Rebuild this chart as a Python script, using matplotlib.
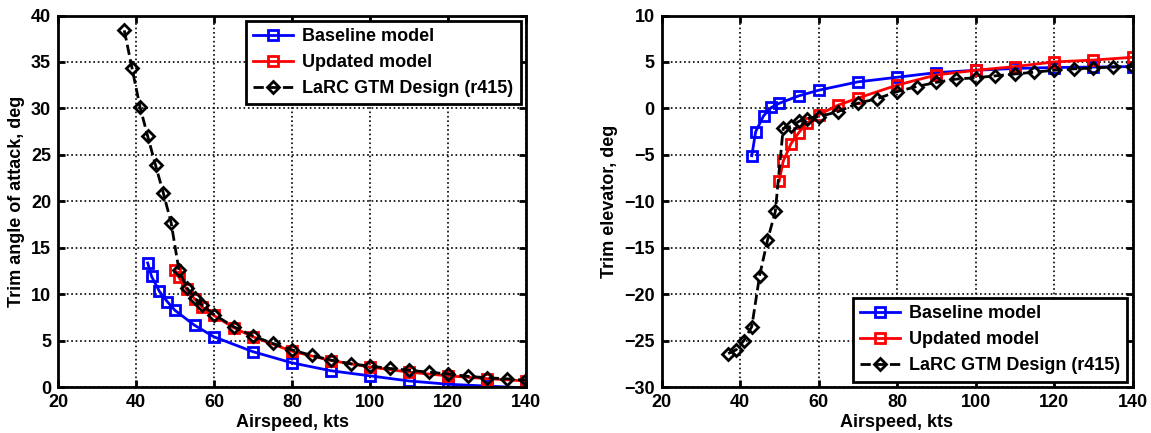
import numpy as np
import matplotlib.pyplot as plt

plt.rcParams['font.family'] = ['Liberation Sans', 'DejaVu Sans']
plt.rcParams['font.weight'] = 'bold'

# airspeed, kts
base_v = [43, 44, 46, 48, 50, 55, 60, 70, 80, 90, 100, 110, 120, 130, 140]
upd_v = [50, 51, 53, 55, 57, 60, 65, 70, 80, 90, 100, 110, 120, 130, 140]
larc_v = [37, 39, 41, 43, 45, 47, 49, 51, 53, 55, 57, 60, 65, 70, 75, 80, 85, 90,
          95, 100, 105, 110, 115, 120, 125, 130, 135, 140]

# trim angle of attack, deg
base_alpha = [13.35, 11.9, 10.3, 9.2, 8.25, 6.65, 5.4, 3.8, 2.6, 1.75, 1.2, 0.65, 0.3, 0.1, -0.1]
upd_alpha = [12.6, 11.8, 10.5, 9.5, 8.6, 7.7, 6.4, 5.4, 3.85, 2.85, 2.15, 1.6, 1.2, 0.9, 0.65]
larc_alpha = [38.4, 34.3, 30.2, 27.0, 23.9, 20.9, 17.7, 12.6, 10.7, 9.6, 8.8, 7.8, 6.5, 5.5,
              4.7, 4.0, 3.4, 2.9, 2.5, 2.25, 2.0, 1.8, 1.6, 1.4, 1.15, 1.0, 0.88, 0.73]

# trim elevator, deg
base_elev = [-5.1, -2.5, -0.8, 0.1, 0.55, 1.35, 1.95, 2.85, 3.35, 3.85, 4.1, 4.3, 4.4, 4.45, 4.5]
upd_elev = [-7.8, -5.7, -3.8, -2.6, -1.6, -0.7, 0.35, 1.1, 2.5, 3.6, 4.1, 4.5, 5.0, 5.2, 5.5]
larc_elev = [-26.4, -26.0, -25.0, -23.5, -18.0, -14.2, -11.1, -2.15, -1.95, -1.4, -1.1, -0.9,
             -0.35, 0.55, 1.05, 1.8, 2.35, 2.8, 3.15, 3.3, 3.5, 3.7, 3.9, 4.1, 4.25, 4.35, 4.45, 4.5]

labels = ["Baseline model", "Updated model", "LaRC GTM Design (r415)"]

fig = plt.figure(figsize=(11.51, 4.33), dpi=100)
W, H = 1151., 433.
ax1 = fig.add_axes([58/W, 1-387/H, 468/W, 371.5/H])
ax2 = fig.add_axes([661.5/W, 1-387/H, 471/W, 371.5/H])

for ax, yb, yu, yl in [(ax1, base_alpha, upd_alpha, larc_alpha), (ax2, base_elev, upd_elev, larc_elev)]:
    ax.plot(base_v, yb, '-s', color='blue', lw=2, ms=6.5, mfc='none', mew=2, label=labels[0])
    ax.plot(upd_v, yu, '-s', color='red', lw=2, ms=6.5, mfc='none', mew=2, label=labels[1])
    ax.plot(larc_v, yl, '--D', color='black', lw=2, ms=6, mfc='none', mew=2, label=labels[2])
    ax.set_xlim(20, 140)
    ax.set_xticks(np.arange(20, 141, 20))
    ax.grid(True, color='black', ls=':', lw=1.2)
    ax.tick_params(direction='in', labelsize=13, width=2, length=5, top=True, right=True, pad=5)
    for s in ax.spines.values():
        s.set_linewidth(2)
    ax.set_xlabel("Airspeed, kts", fontsize=13, fontweight='bold', labelpad=2)

ax1.set_ylim(0, 40)
ax1.set_yticks(np.arange(0, 41, 5))
ax1.set_ylabel("Trim angle of attack, deg", fontsize=13, fontweight='bold')
ax2.set_ylim(-30, 10)
ax2.set_yticks(np.arange(-30, 11, 5))
ax2.set_ylabel("Trim elevator, deg", fontsize=13, fontweight='bold')

for ax, loc in [(ax1, 'upper right'), (ax2, 'lower right')]:
    leg = ax.legend(loc=loc, fontsize=13, fancybox=False, framealpha=1, edgecolor='black',
                    handlelength=2.2, handletextpad=0.5, borderaxespad=0.3)
    leg.get_frame().set_linewidth(2)

fig.savefig("out.png", dpi=100)
